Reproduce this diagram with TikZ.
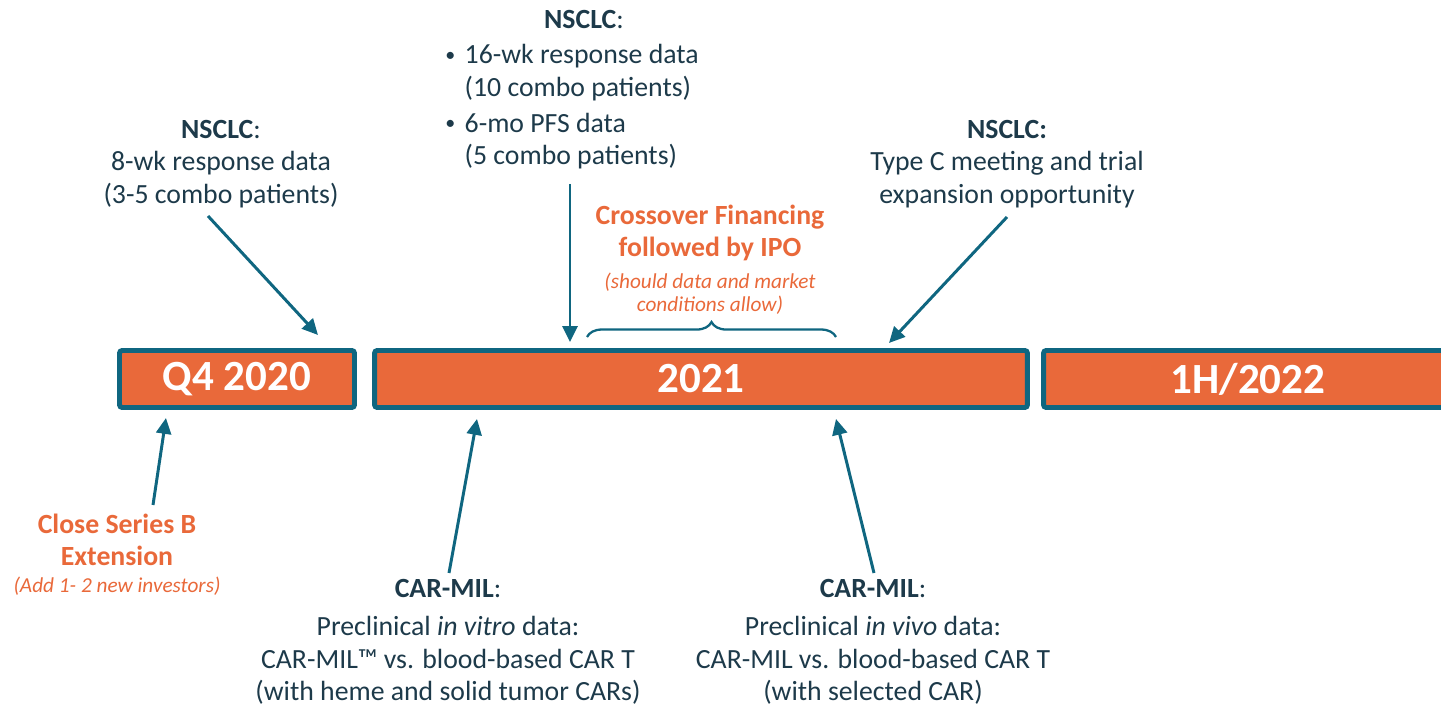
\documentclass[tikz,border=0pt]{standalone}
\usepackage{fontspec}
\setmainfont{Carlito}
\usetikzlibrary{arrows.meta, positioning, decorations.pathreplacing}

\definecolor{barorange}{HTML}{E9693A}
\definecolor{barteal}{HTML}{0F6680}
\definecolor{darktext}{HTML}{1D3A4A}

\newcommand{\dotitem}{\makebox[11pt][l]{\raisebox{1.6pt}{\scalebox{0.72}{\textbullet}}}}

\begin{document}
\begin{tikzpicture}[x=0.02cm, y=-0.02cm]
	\tikzset {bar/.style={draw=barteal, line width=2.8pt, fill=barorange, rounded corners=1.5pt, minimum height=1.14cm, inner sep=0pt, text=white, font=\fontsize{24.5}{28}\selectfont\bfseries},
		txt/.style={inner sep=0pt, align=center, text=darktext, font=\fontsize{15.8}{18.5}\selectfont},
		hot/.style={inner sep=0pt, align=center, text=barorange, font=\fontsize{15.8}{18.2}\selectfont\bfseries},
		note/.style={inner sep=0pt, align=center, text=barorange, font=\fontsize{12.1}{13.1}\selectfont\itshape},
		arr/.style={-{Triangle[length=9pt, width=8.5pt]}, line width=1.7pt, draw=barteal} }

	\useasboundingbox (0,0) rectangle (1441,705);

	\node[bar, minimum width=4.7cm] (q4) at (237,379) {Q4 2020};
	\node[bar, minimum width=13.06cm] (y21) at (701,379) {2021};
	\node[bar, minimum width=8.18cm] (h22) at (1248,379) {1H/2022};

	\node[txt] (nsA) at (221,164) {\textbf{NSCLC}:\\8-wk response data\\(3-5 combo patients)};
	\node[txt] (nsB) at (584,20) {\textbf{NSCLC}:};
	\node[txt, align=left, anchor=west] (nsBlist) at (445,107) {\dotitem16-wk response data\\\hspace*{11pt}(10 combo patients)\\[2pt]\dotitem6-mo PFS data\\\hspace*{11pt}(5 combo patients)};
	\node[txt] (nsC) at (1007,164) {\textbf{NSCLC:}\\Type C meeting and trial\\expansion opportunity};

	\node[hot] (cross) at (710,233) {Crossover Financing\\followed by IPO};
	\node[note, below=6.5pt of cross] (crossNote) {(should data and market\\conditions allow)};

	\node[hot] (series) at (117,540) {Close Series B\\Extension};
	\node[note, below=6pt of series] (seriesNote) {(Add 1- 2 new investors)};

	\node[txt] (carA) at (448,642) {\textbf{CAR-MIL}:\\[3pt]Preclinical \textit{in vitro} data:\\CAR-MIL™ vs. blood-based CAR T\\(with heme and solid tumor CARs)};
	\node[txt] (carB) at (873,642) {\textbf{CAR-MIL}:\\[3pt]Preclinical \textit{in vivo} data:\\CAR-MIL vs. blood-based CAR T\\(with selected CAR)};

	\coordinate (tailA) at (208,216);  \coordinate (tipA) at (318,335);
	\coordinate (tailB) at (570,184);  \coordinate (tipB) at (570,342);
	\coordinate (tailC) at (1007,217); \coordinate (tipC) at (889,343);
	\coordinate (tailD) at (153,505);  \coordinate (tipD) at (166,418);
	\coordinate (tailE) at (449,573);  \coordinate (tipE) at (477,419);
	\coordinate (tailF) at (874,573);  \coordinate (tipF) at (836,419);
	\coordinate (braceL) at (587,337); \coordinate (braceR) at (836,337);

	\draw[arr] (tailA) -- (tipA);
	\draw[arr] (tailB) -- (tipB);
	\draw[arr] (tailC) -- (tipC);
	\draw[arr] (tailD) -- (tipD);
	\draw[arr] (tailE) -- (tipE);
	\draw[arr] (tailF) -- (tipF);

	\draw[barteal, line width=1.3pt, decorate, decoration={brace, amplitude=8.5pt, aspect=0.5}] (braceL) -- (braceR);
\end{tikzpicture}
\end{document}
